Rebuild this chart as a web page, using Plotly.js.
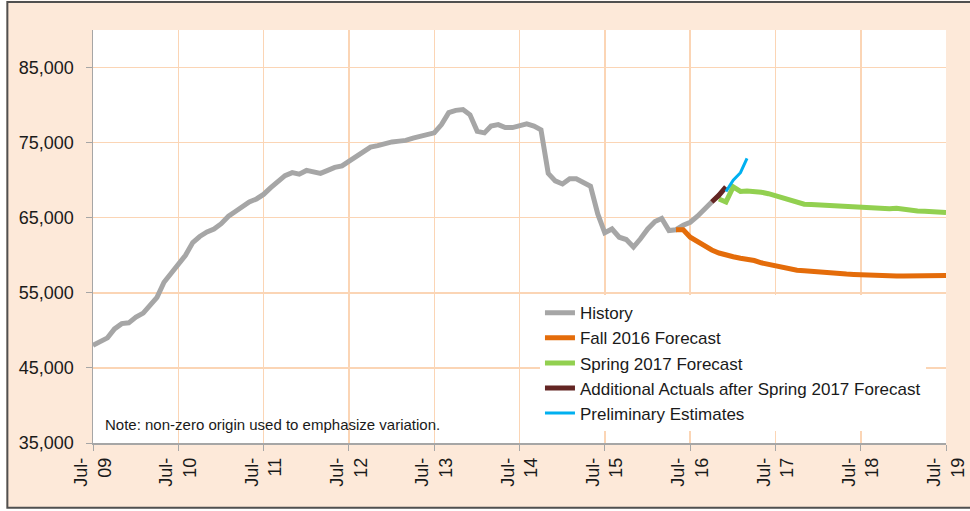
<!DOCTYPE html>
<html>
<head>
<meta charset="utf-8">
<script src="https://cdn.plot.ly/plotly-3.0.1.min.js"></script>
<style>
  body { margin: 0; background: #fff; }
  #chart { width: 970px; height: 511px; }
</style>
</head>
<body>
<div id="chart"></div>
<script>
// monthly values, Jul-09 .. Oct-16
var historyVals = [
  48000, 48500, 49000, 50200, 50900, 51000,
  51760, 52300, 53200, 54400, 56400, 57700, 58900, 60000, 61700, 62500, 63100, 63500,
  64200, 65200, 65800, 66500, 67100, 67500, 68100, 69000, 69900, 70600, 71000, 70800,
  71300, 71100, 70900, 71300, 71700, 71900, 72500, 73000, 73800, 74400, 74600, 74900,
  75100, 75200, 75300, 75600, 75800, 76100, 76300, 77400, 79000, 79300, 79400, 78700,
  76500, 76300, 77200, 77400, 77000, 77000, 77300, 77500, 77200, 76700, 70900, 69900,
  69500, 70200, 70200, 69700, 69200, 65500, 63000, 63500, 62400, 62100, 61100, 62200,
  63500, 64500, 64900, 63300, 63400, 64000, 64400, 65200, 66200, 67100
];
// May-16 .. Jul-19
var fall2016 = [
  63400, 63400, 62400, 61800, 61200, 60700, 60300, 60000,
  59800, 59600, 59500, 59300, 59000, 58800, 58500, 58300, 58100, 58000, 57950, 57850,
  57800, 57700, 57650, 57550, 57500, 57450, 57400, 57300, 57250, 57250, 57250, 57250,
  57250, 57250, 57250, 57250, 57270, 57280, 57300
];
// Nov-16 .. Jul-19
var spring2017 = [
  67500, 67100,
  69100, 68500, 68550, 68500, 68400, 68200, 67900, 67600, 67300, 67000, 66800, 66750,
  66700, 66650, 66600, 66500, 66400, 66350, 66300, 66200, 66150, 66100, 66200, 66250,
  66100, 66000, 65900, 65850, 65800, 65750, 65700
];
// Oct-16 .. Dec-16
var addActuals = [67100, 68000, 69100];
// Dec-16 .. Mar-17
var prelim = [68500, 70000, 71000, 72900];

var tickYears = ['09', '10', '11', '12', '13', '14', '15', '16', '17', '18', '19'];

function months(y, m, n) {
  var out = [];
  for (var i = 0; i < n; i++) {
    var yy = y + Math.floor((m - 1 + i) / 12);
    var mm = ((m - 1 + i) % 12) + 1;
    out.push(yy + '-' + (mm < 10 ? '0' : '') + mm + '-01');
  }
  return out;
}

var data = [
  { x: months(2009, 7, historyVals.length), y: historyVals, name: 'History',
    type: 'scatter', mode: 'lines', line: { color: '#A6A6A6', width: 5 } },
  { x: months(2016, 5, fall2016.length), y: fall2016, name: 'Fall 2016 Forecast',
    type: 'scatter', mode: 'lines', line: { color: '#E46C0A', width: 5 } },
  { x: months(2016, 11, spring2017.length), y: spring2017, name: 'Spring 2017 Forecast',
    type: 'scatter', mode: 'lines', line: { color: '#92D050', width: 5 } },
  { x: months(2016, 10, addActuals.length), y: addActuals, name: 'Additional Actuals after Spring 2017 Forecast',
    type: 'scatter', mode: 'lines', line: { color: '#632523', width: 5 } },
  { x: months(2016, 12, prelim.length), y: prelim, name: 'Preliminary Estimates',
    type: 'scatter', mode: 'lines', line: { color: '#00B0F0', width: 3 } }
];

var tickvals = tickYears.map(function (t) { return '20' + t + '-07-01'; });
var ticktext = tickYears.map(function (t) { return 'Jul-<br>' + t; });

var layout = {
  width: 970,
  height: 511,
  margin: { l: 93, r: 24, t: 30, b: 68 },
  paper_bgcolor: '#FDE9D9',
  plot_bgcolor: '#FFFFFF',
  font: { family: 'Liberation Sans, Arial, sans-serif', color: '#1a1a1a' },
  showlegend: true,
  legend: {
    x: 0.524, y: 0.358, xanchor: 'left', yanchor: 'top',
    bgcolor: '#FFFFFF', borderwidth: 0,
    font: { size: 17, color: '#1a1a1a' },
    tracegroupgap: 0
  },
  xaxis: {
    type: 'date',
    range: ['2009-07-01', '2019-07-01'],
    tickvals: tickvals,
    ticktext: ticktext,
    tickangle: -90,
    tickfont: { size: 18 },
    ticks: 'outside', ticklen: 6, tickcolor: '#A6A6A6', tickwidth: 1,
    showline: true, linecolor: '#A6A6A6', linewidth: 1.5,
    showgrid: true, gridcolor: '#FBD5B5', gridwidth: 1.5,
    zeroline: false, fixedrange: true
  },
  yaxis: {
    range: [35000, 90000],
    tick0: 35000, dtick: 10000,
    tickformat: ',d',
    tickfont: { size: 18 },
    ticks: 'outside', ticklen: 6, tickcolor: '#A6A6A6', tickwidth: 1,
    ticklabelstandoff: 8,
    showline: true, linecolor: '#A6A6A6', linewidth: 1.5,
    showgrid: true, gridcolor: '#FBD5B5', gridwidth: 1.5,
    zeroline: false, fixedrange: true
  },
  annotations: [{
    xref: 'paper', yref: 'paper', x: 0.0117, y: 0.0436,
    xanchor: 'left', yanchor: 'middle', showarrow: false,
    text: 'Note: non-zero origin used to emphasize variation.',
    font: { size: 15, color: '#1a1a1a' }
  }],
  shapes: [
    // white strips outside the frame
    { type: 'rect', xref: 'paper', yref: 'paper', x0: -0.2, x1: -0.1015, y0: -0.3, y1: 1.2,
      fillcolor: '#FFFFFF', line: { width: 0 } },
    { type: 'rect', xref: 'paper', yref: 'paper', x0: -0.2, x1: 1.2, y0: 1.071, y1: 1.2,
      fillcolor: '#FFFFFF', line: { width: 0 } },
    { type: 'rect', xref: 'paper', yref: 'paper', x0: -0.2, x1: 1.2, y0: -0.3, y1: -0.158,
      fillcolor: '#FFFFFF', line: { width: 0 } },
    // dark frame
    { type: 'rect', xref: 'paper', yref: 'paper', x0: -0.1004, x1: 1.06, y0: -0.1565, y1: 1.068,
      line: { color: '#505050', width: 2 } }
  ]
};

Plotly.newPlot('chart', data, layout, { displayModeBar: false, staticPlot: true });
</script>
</body>
</html>
